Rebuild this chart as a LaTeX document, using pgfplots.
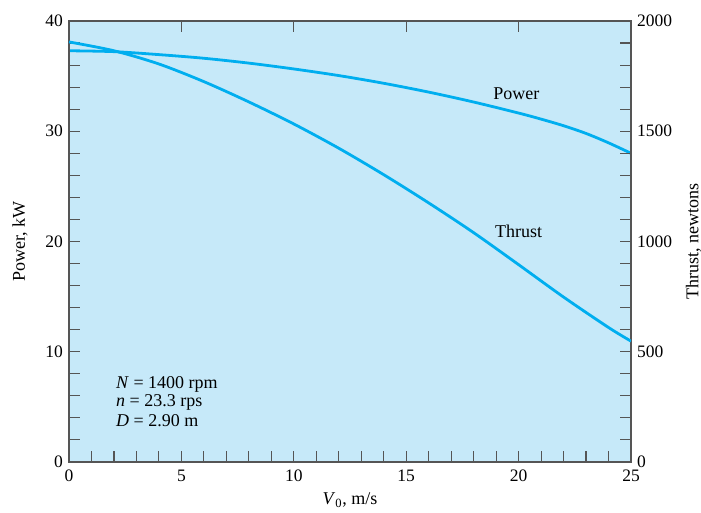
\documentclass[border=0pt]{standalone}
\usepackage{fontspec}
\setmainfont{Liberation Serif}
\usepackage{pgfplots}
\pgfplotsset{compat=1.18}
\definecolor{bg}{RGB}{198,233,249}
\definecolor{curve}{RGB}{0,174,239}
\definecolor{axc}{RGB}{85,85,85}
\begin{document}
\fontsize{18}{21}\selectfont
\begin{tikzpicture}
\useasboundingbox (-69pt,-51pt) rectangle (632pt,462pt);
\pgfplotsset{
 common/.style={scale only axis, width=562pt, height=441pt, xmin=0, xmax=25,
  at={(0,0)}, anchor=south west,
  tick align=inside, major tick length=11pt, minor tick length=11pt,
  every tick/.style={axc, line width=1.1pt},
  axis line style={axc, line width=1.5pt},
  /pgf/number format/assume math mode=true,
  /pgf/number format/1000 sep={},
  tick label style={font=\fontsize{17.5}{21}\selectfont},
  label style={font=\fontsize{18}{21}\selectfont},
 }}
\begin{axis}[common, ymin=0, ymax=40,
  axis background/.style={fill=bg},
  xtick={0,5,...,25}, minor x tick num=4, xtick pos=left,
  ytick={0,10,...,40}, minor y tick num=4, ytick pos=left,
  xticklabel style={yshift=-2pt},
  xlabel={\textit{V}\textsubscript{0}, m/s},
  ylabel={Power, kW},
  xlabel style={at={(axis description cs:0.5,-0.0975)}, anchor=base},
  ylabel style={at={(axis description cs:-0.0783,0.5)}, anchor=base},
 ]
\addplot[curve, line width=2.8pt, smooth] coordinates {
 (0,37.30) (2,37.22) (4,36.95) (6,36.62) (8,36.18) (10,35.65) (12,35.05)
 (14,34.35) (16,33.55) (18,32.65) (20,31.65) (21,31.10) (22,30.50) (23,29.80)
 (24,28.95) (25,28.0)};
\node[anchor=center, font=\fontsize{18}{21}\selectfont] at (axis cs:19.9,33.4) {Power};
\node[anchor=center, font=\fontsize{18}{21}\selectfont] at (axis cs:20.0,20.9) {Thrust};
\node[anchor=base west, inner sep=0] at (axis cs:2.09,6.71) {\textit{N} = 1400 rpm};
\node[anchor=base west, inner sep=0] at (axis cs:2.09,4.99) {\textit{n} = 23.3 rps};
\node[anchor=base west, inner sep=0] at (axis cs:2.09,3.26) {\textit{D} = 2.90 m};
\end{axis}
\begin{axis}[common, ymin=0, ymax=2000,
  xtick={5,10,15,20}, xticklabels={}, xtick pos=right,
  ytick={0,500,...,2000}, minor y tick num=4, ytick pos=right, yticklabel pos=right,
  ylabel={Thrust, newtons},
  ylabel style={at={(axis description cs:1.12,0.5)}, anchor=base},
 ]
\addplot[curve, line width=2.8pt, smooth] coordinates {
 (0,1905) (2,1865) (4,1805) (6,1725) (8,1633) (10,1533) (12,1423) (14,1303)
 (16,1175) (18,1040) (20,895) (22,748) (24,610) (25,548)};
\end{axis}
\end{tikzpicture}
\end{document}
